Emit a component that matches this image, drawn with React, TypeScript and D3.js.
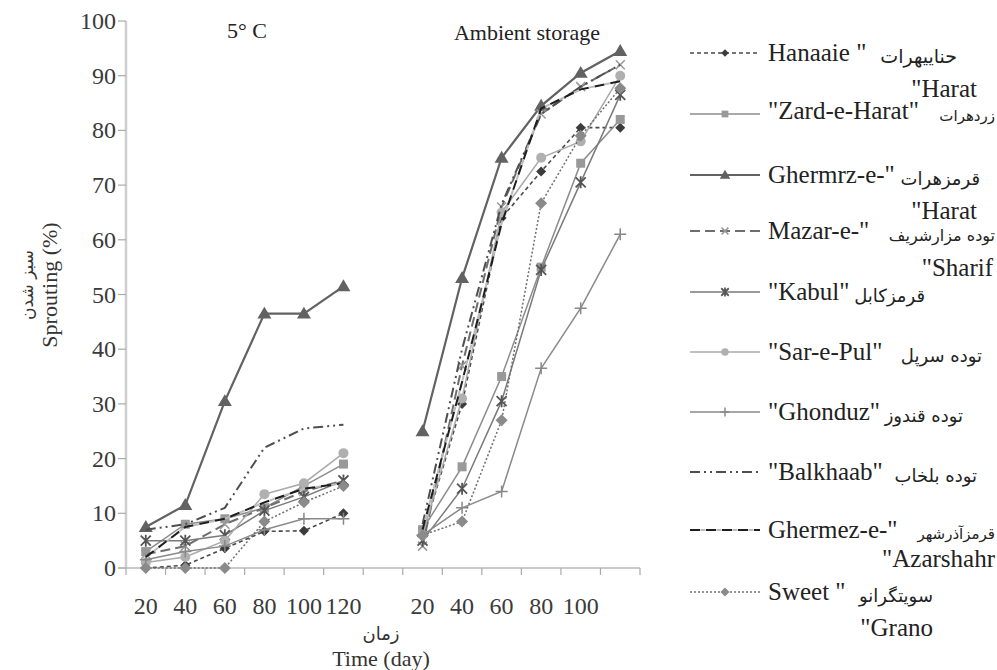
import React from "react";
import * as d3 from "d3";

const categories = ["20", "40", "60", "80", "100", "120", "", "20", "40", "60", "80", "100", ""];
const yTicks = [0, 10, 20, 30, 40, 50, 60, 70, 80, 90, 100];

const seriesNames = [
  "Hanaaie", "Zard", "Ghermrz", "Mazar", "Kabul", "SarePul", "Ghonduz", "Balkhaab", "Azarshahr", "Sweet",
];

// 5 °C (days 20..120)
const cold_Hanaaie = [0, 0.5, 3.6, 6.7, 6.8, 10];
const cold_Zard = [3, 8, 9, 11, 15, 19];
const cold_Ghermrz = [7.5, 11.5, 30.5, 46.5, 46.5, 51.5];
const cold_Mazar = [2.5, 4, 8, 11, 14, 16];
const cold_Kabul = [5, 5, 6, 10.5, 13, 16];
const cold_SarePul = [1, 2, 5, 13.5, 15.5, 21];
const cold_Ghonduz = [1.5, 3, 4, 7, 9, 9];
const cold_Balkhaab = [7, 8, 11, 22, 25.5, 26.2];
const cold_Azarshahr = [2, 7.5, 9, 12, 14.5, 15.5];
const cold_Sweet = [0, 0, 0, 8.5, 12, 15];

// Ambient storage (days 20..120)
const amb_Hanaaie = [6, 30, 64, 72.5, 80.5, 80.5];
const amb_Zard = [7, 18.5, 35, 55, 74, 82];
const amb_Ghermrz = [25, 53, 75, 84.5, 90.5, 94.5];
const amb_Mazar = [4, 37, 66, 83, 88, 92];
const amb_Kabul = [5, 14.5, 30.5, 54.5, 70.5, 86.5];
const amb_SarePul = [6, 31, 65, 75, 78, 90];
const amb_Ghonduz = [6, 11, 14, 36.5, 47.5, 61];
const amb_Balkhaab = [8, 40, 66.5, 83, 88, 92];
const amb_Azarshahr = [7, 34, 63, 84, 87.5, 89];
const amb_Sweet = [6, 8.5, 27, 66.7, 79, 87.7];

const coldData: Record<string, number[]> = {
  Hanaaie: cold_Hanaaie, Zard: cold_Zard, Ghermrz: cold_Ghermrz, Mazar: cold_Mazar, Kabul: cold_Kabul,
  SarePul: cold_SarePul, Ghonduz: cold_Ghonduz, Balkhaab: cold_Balkhaab, Azarshahr: cold_Azarshahr, Sweet: cold_Sweet,
};
const ambData: Record<string, number[]> = {
  Hanaaie: amb_Hanaaie, Zard: amb_Zard, Ghermrz: amb_Ghermrz, Mazar: amb_Mazar, Kabul: amb_Kabul,
  SarePul: amb_SarePul, Ghonduz: amb_Ghonduz, Balkhaab: amb_Balkhaab, Azarshahr: amb_Azarshahr, Sweet: amb_Sweet,
};

type Style = { color: string; width: number; dash?: string; marker: string; mColor: string; size: number };
const styles: Record<string, Style> = {
  Hanaaie: { color: "#4a4a4a", width: 1.6, dash: "4,3", marker: "diamond", mColor: "#3c3c3c", size: 5 },
  Zard: { color: "#8c8c8c", width: 1.5, marker: "square", mColor: "#999", size: 4.5 },
  Ghermrz: { color: "#626262", width: 2.2, marker: "triangle", mColor: "#626262", size: 7 },
  Mazar: { color: "#6e6e6e", width: 2, dash: "10,5", marker: "x", mColor: "#999", size: 4.5 },
  Kabul: { color: "#7a7a7a", width: 1.5, marker: "star", mColor: "#555", size: 5 },
  SarePul: { color: "#aaaaaa", width: 1.5, marker: "circle", mColor: "#b0b0b0", size: 5 },
  Ghonduz: { color: "#8a8a8a", width: 1.5, marker: "plus", mColor: "#888", size: 6 },
  Balkhaab: { color: "#4f4f4f", width: 2, dash: "10,4,2,4,2,4", marker: "none", mColor: "#aaa", size: 4 },
  Azarshahr: { color: "#1e1e1e", width: 2, dash: "10,6", marker: "none", mColor: "#bbb", size: 4 },
  Sweet: { color: "#6f6f6f", width: 1.5, dash: "2,2", marker: "diamond", mColor: "#8a8a8a", size: 6 },
};

const W = 997;
const H = 670;
const axisX = 126;
const axisRight = 640;
const yZero = 568;
const yTop = 21;

const SERIF = "'Liberation Serif', 'Times New Roman', serif";
const ARABIC = "'DejaVu Sans', sans-serif";

function Marker({ kind, x, y, color, size }: { kind: string; x: number; y: number; color: string; size: number }) {
  const s = size;
  switch (kind) {
    case "diamond":
      return <path d={`M${x},${y - s}L${x + s},${y}L${x},${y + s}L${x - s},${y}Z`} fill={color} />;
    case "square":
      return <rect x={x - s} y={y - s} width={2 * s} height={2 * s} fill={color} />;
    case "triangle":
      return <path d={`M${x},${y - s}L${x + s},${y + s * 0.7}L${x - s},${y + s * 0.7}Z`} fill={color} />;
    case "circle":
      return <circle cx={x} cy={y} r={s} fill={color} />;
    case "x":
      return (
        <path d={`M${x - s},${y - s}L${x + s},${y + s}M${x - s},${y + s}L${x + s},${y - s}`} stroke={color} strokeWidth={1.5} />
      );
    case "star":
      return (
        <path
          d={`M${x - s},${y - s}L${x + s},${y + s}M${x - s},${y + s}L${x + s},${y - s}M${x},${y - s * 1.2}L${x},${y + s * 1.2}`}
          stroke={color}
          strokeWidth={1.8}
        />
      );
    case "plus":
      return <path d={`M${x - s},${y}L${x + s},${y}M${x},${y - s}L${x},${y + s}`} stroke={color} strokeWidth={1.5} />;
    default:
      return null;
  }
}

function T(props: any) {
  const { ar, children, ...rest } = props;
  return (
    <text style={{ fontFamily: ar ? ARABIC : SERIF }} {...rest}>
      {children}
    </text>
  );
}

export default function App() {
  const x = d3.scaleBand<number>().domain(d3.range(categories.length)).range([axisX, axisRight]).paddingInner(0).paddingOuter(0);
  const y = d3.scaleLinear().domain([0, 100]).range([yZero, yTop]);
  const line = d3
    .line<[number, number]>()
    .x((d) => d[0])
    .y((d) => d[1]);
  const bw = x.bandwidth();
  const cx = (i: number) => (x(i) as number) + bw / 2;

  const panels = [
    { data: coldData, offset: 0 },
    { data: ambData, offset: 7 },
  ];

  const legendX0 = 690;
  const legendX1 = 760;
  const legendRows = [
    { key: "Hanaaie", y: 53 },
    { key: "Zard", y: 114 },
    { key: "Ghermrz", y: 175 },
    { key: "Mazar", y: 231 },
    { key: "Kabul", y: 292 },
    { key: "SarePul", y: 352 },
    { key: "Ghonduz", y: 412 },
    { key: "Balkhaab", y: 472 },
    { key: "Azarshahr", y: 530 },
    { key: "Sweet", y: 592 },
  ];

  const fs = 25;

  return (
    <svg width={W} height={H} style={{ position: "absolute", left: 0, top: 0, background: "#fff" }}>
      <rect x={0} y={0} width={W} height={H} fill="#fff" />
      {/* Y axis */}
      <line x1={axisX} x2={axisX} y1={y(100)} y2={yZero} stroke="#cfcfcf" strokeWidth={2.5} />
      {yTicks.map((t) => (
        <g key={t}>
          <line x1={axisX - 8} x2={axisX} y1={y(t)} y2={y(t)} stroke="#aaa" strokeWidth={1.2} />
          <T x={116} y={y(t) + 8} textAnchor="end" fontSize={24} fill="#3a3a3a">
            {t}
          </T>
        </g>
      ))}
      {/* X axis */}
      <line x1={axisX - 8} x2={axisRight} y1={yZero} y2={yZero} stroke="#b8b8b8" strokeWidth={1.5} />
      {d3.range(categories.length + 1).map((i) => {
        const xx = i < categories.length ? (x(i) as number) : axisRight;
        return <line key={i} x1={xx} x2={xx} y1={yZero} y2={yZero + 7} stroke="#aaa" strokeWidth={1.2} />;
      })}
      {categories.map((c, i) => (
        <T key={i} x={cx(i)} y={614} textAnchor="middle" fontSize={24} fill="#3a3a3a">
          {c}
        </T>
      ))}
      {/* axis titles */}
      <T ar x={381} y={640} textAnchor="middle" fontSize={18} fill="#333">
        زمان
      </T>
      <T x={381} y={666} textAnchor="middle" fontSize={22} fill="#333">
        Time (day)
      </T>
      <g transform="translate(33,285) rotate(-90)">
        <T ar x={0} y={0} textAnchor="middle" fontSize={17} fill="#333">
          سبز شدن
        </T>
        <T x={0} y={24} textAnchor="middle" fontSize={22} fill="#333">
          Sprouting (%)
        </T>
      </g>
      {/* panel titles */}
      <T x={247} y={38} textAnchor="middle" fontSize={22} fill="#222">
        5° C
      </T>
      <T x={527} y={40} textAnchor="middle" fontSize={22} fill="#222">
        Ambient storage
      </T>

      {/* series */}
      {panels.map((p, pi) => (
        <g key={pi}>
          {seriesNames.map((name) => {
            const st = styles[name];
            const vals = p.data[name];
            const pts: [number, number][] = vals.map((v, i) => [cx(i + p.offset), y(v)]);
            return (
              <g key={name}>
                <path d={line(pts) || ""} fill="none" stroke={st.color} strokeWidth={st.width} strokeDasharray={st.dash} />
                {name === "Azarshahr" && (
                  <path d={line(pts) || ""} fill="none" stroke="#bbb" strokeWidth={2} strokeDasharray="5,11" strokeDashoffset={-10.5} />
                )}
                {pts.map((pt, i) => (
                  <Marker key={i} kind={st.marker} x={pt[0]} y={pt[1]} color={st.mColor} size={st.size} />
                ))}
              </g>
            );
          })}
        </g>
      ))}

      {/* legend */}
      {legendRows.map((r) => {
        const st = styles[r.key];
        const ym = r.y;
        return (
          <g key={r.key}>
            <line x1={legendX0} x2={legendX1} y1={ym} y2={ym} stroke={st.color} strokeWidth={st.width} strokeDasharray={st.dash} />
            {r.key === "Azarshahr" && (
              <line x1={legendX0} x2={legendX1} y1={ym} y2={ym} stroke="#bbb" strokeWidth={2} strokeDasharray="5,11" strokeDashoffset={-10.5} />
            )}
            <Marker kind={st.marker} x={(legendX0 + legendX1) / 2} y={ym} color={st.mColor} size={st.size * 0.75} />
          </g>
        );
      })}
      <g fill="#222">
        <T x={768} y={61} fontSize={fs}>Hanaaie "</T>
        <T ar x={957} y={63} textAnchor="end" fontSize={19}>حناییهرات</T>
        <T x={977} y={97} textAnchor="end" fontSize={fs}>"Harat</T>

        <T x={768} y={119} fontSize={fs}>"Zard-e-Harat"</T>
        <T ar x={995} y={121} textAnchor="end" fontSize={15}>زردهرات</T>

        <T x={768} y={183} fontSize={fs}>Ghermrz-e-"</T>
        <T ar x={980} y={185} textAnchor="end" fontSize={18}>قرمزهرات</T>
        <T x={977} y={219} textAnchor="end" fontSize={fs}>"Harat</T>

        <T x={768} y={239} fontSize={fs}>Mazar-e-"</T>
        <T ar x={995} y={241} textAnchor="end" fontSize={16}>توده مزارشریف</T>
        <T x={993} y={276} textAnchor="end" fontSize={fs}>"Sharif</T>

        <T x={768} y={300} fontSize={fs}>"Kabul"</T>
        <T ar x={925} y={302} textAnchor="end" fontSize={18}>قرمزکابل</T>

        <T x={768} y={360} fontSize={fs}>"Sar-e-Pul"</T>
        <T ar x={982} y={362} textAnchor="end" fontSize={18}>توده سرپل</T>

        <T x={768} y={420} fontSize={fs}>"Ghonduz"</T>
        <T ar x={963} y={422} textAnchor="end" fontSize={18}>توده قندوز</T>

        <T x={768} y={480} fontSize={fs}>"Balkhaab"</T>
        <T ar x={977} y={482} textAnchor="end" fontSize={18}>توده بلخاب</T>

        <T x={768} y={538} fontSize={fs}>Ghermez-e-"</T>
        <T ar x={995} y={539} textAnchor="end" fontSize={15}>قرمزآذرشهر</T>
        <T x={995} y={567} textAnchor="end" fontSize={fs}>"Azarshahr</T>

        <T x={768} y={600} fontSize={fs}>Sweet "</T>
        <T ar x={933} y={602} textAnchor="end" fontSize={18}>سویتگرانو</T>
        <T x={933} y={636} textAnchor="end" fontSize={fs}>"Grano</T>
      </g>
    </svg>
  );
}
